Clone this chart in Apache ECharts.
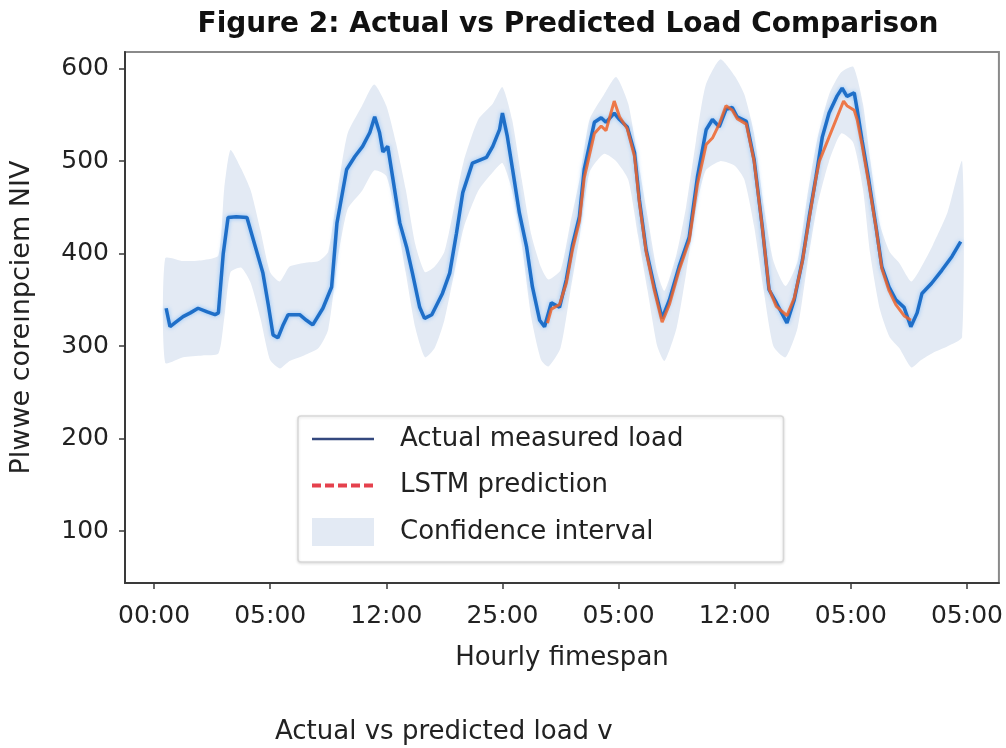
<!DOCTYPE html>
<html>
<head>
<meta charset="utf-8">
<script src="https://cdn.jsdelivr.net/npm/echarts@6/dist/echarts.min.js"></script>
<style>
html,body{margin:0;padding:0;background:#fff;}
#chart{width:1006px;height:748px;}
</style>
</head>
<body>
<div id="chart"></div>
<script>
var tickHours = [0, 24, 48, 72, 96, 120, 144, 168];
var tickLabels = ['00:00', '05:00', '12:00', '25:00', '05:00', '12:00', '05:00', '05:00'];
var yTicks = [100, 200, 300, 400, 500, 600];

var actualHours = [2.5,3.3,4.5,6,7.5,9.1,11,12.6,13.3,14.3,15.3,17,19.2,20.8,22.5,23.6,24.6,25.6,26.6,27.7,30.1,31.5,32.8,34.9,36.7,37.8,39.8,41.5,43.1,44.6,45.6,46.6,47.3,48.3,49.3,50.8,52.2,53.4,54.9,55.9,57.4,59.6,61.1,62.5,63.8,65.8,68.7,70,71.4,72,73,74.1,75.5,77,78.2,79.7,80.7,82.1,83.8,85.2,86.5,87.9,88.9,91,92.4,93.4,95.1,96.2,97.8,99.3,100.3,101.7,103.4,105,106.5,108.5,110.6,112.3,114.1,115.4,116.8,118.2,119.5,120.5,122.4,124,125.7,127.1,128.6,130.8,132.3,134,135.4,136.8,138.1,139.5,141.1,142.2,143.2,144.7,145.3,146.3,147.7,149.2,150.4,151.9,153.3,155,156.4,157.7,158.7,160.7,162.8,164.9,166.7];
var actualLoad = [341,321,326,332,336,341,337,334,336,400,439,440,439,410,379,345,312,309,322,334,334,328,323,341,364,433,491,505,516,531,548,531,510,516,483,433,407,379,342,330,334,357,379,422,466,498,504,516,534,552,527,491,444,407,364,328,321,347,342,372,410,440,491,542,547,542,552,545,537,509,458,404,364,330,350,386,418,483,534,545,537,556,558,548,543,502,429,361,347,325,350,393,440,483,526,552,570,579,570,574,556,523,480,429,386,364,350,342,321,336,357,368,382,397,413];

var predHours = [81.3,82.1,83.8,85.2,86.5,87.9,88.9,91,92.4,93.4,95.1,96.2,97.8,99.3,100.3,101.7,103.4,105,106.5,108.5,110.6,112.3,114.1,115.4,116.8,118.2,119.5,120.5,122.4,124,125.7,127.1,128.6,130.8,132.3,134,135.4,136.8,137.5,142.5,143.2,144.7,145.3,146.3,147.7,149.2,150.4,151.9,153.3,155,156.4];
var predLoad = [325,340,345,368,405,435,482,530,538,533,565,548,535,505,455,402,360,326,345,382,414,475,518,525,540,560,555,546,540,500,428,362,343,333,352,392,438,482,500,565,560,555,545,518,476,428,384,360,345,333,328];

var bandHours = [2.3,6,10,13.3,14.5,15.8,18,20,22,24,26,28,31,34,36,38,40,43,45.5,48,50,52,54,56,58,60,62,64,67,70,72,74,76,78,80,81.5,84,86,88,90,93,95.5,98,100,102,104,105.5,108,110,112,114,117,120,122,124,126,128,130.5,133,135,137,139.5,142,144.5,146.5,148,150,152,154,156.5,158.5,161,164,167];
var bandLow = [282,288,290,292,330,380,385,368,330,285,276,284,290,298,318,395,448,468,490,484,440,380,320,288,298,328,378,428,468,488,498,468,410,330,285,278,298,358,420,488,508,500,480,420,360,300,284,320,380,448,490,500,495,480,430,360,300,288,320,388,450,500,530,520,470,400,340,310,298,277,285,293,300,310];
var bandHigh = [395,392,393,398,470,512,492,468,425,380,370,386,390,392,402,470,530,560,583,560,520,470,410,380,386,402,450,500,545,562,580,545,480,420,385,372,382,432,482,545,572,591,562,502,440,380,360,400,452,522,582,610,592,572,530,452,392,365,392,462,522,572,596,602,562,502,432,402,390,370,385,410,445,500];

function pairs(xs, ys) { return xs.map(function (x, i) { return [x, ys[i]]; }); }

var FONT = 'DejaVu Sans';
var BAND = '#e3eaf4';
var chart = echarts.init(document.getElementById('chart'), null, {renderer: 'canvas'});

chart.setOption({
  animation: false,
  backgroundColor: '#ffffff',
  textStyle: {fontFamily: FONT},
  title: [{
    text: 'Figure 2: Actual vs Predicted Load Comparison',
    left: 563, top: 6, textAlign: 'center',
    textStyle: {fontFamily: FONT, fontSize: 28, fontWeight: 'bold', color: '#111'}
  }],
  graphic: [{
    type: 'text', left: 275, top: 719,
    style: {text: 'Actual vs predicted load v', font: '26px "DejaVu Sans"', fill: '#222'}
  }],
  grid: {
    left: 125, right: 6, top: 52, bottom: 165,
    show: true, borderColor: '#8a8a8a', borderWidth: 2, backgroundColor: 'transparent'
  },
  legend: {
    orient: 'vertical', left: 298, top: 416,
    padding: [9, 100, 16, 12],
    itemWidth: 62, itemHeight: 28, itemGap: 18.5,
    backgroundColor: '#ffffff', borderColor: '#d8d8d8', borderWidth: 1.5, borderRadius: 3,
    shadowColor: 'rgba(0,0,0,0.12)', shadowBlur: 3, shadowOffsetY: 1,
    textStyle: {fontFamily: FONT, fontSize: 26, color: '#222', padding: [0, 0, 0, 21], lineHeight: 28},
    data: [
      {name: 'Actual measured load', itemStyle: {opacity: 0}, lineStyle: {color: '#34487e', width: 2.5}},
      {name: 'LSTM prediction', itemStyle: {opacity: 0}, lineStyle: {color: '#e0202e', width: 4, type: [9, 4]}},
      {name: 'Confidence interval', icon: 'rect', itemStyle: {color: BAND}}
    ]
  },
  xAxis: {
    type: 'value', min: -6, max: 174.6,
    name: 'Hourly fimespan', nameLocation: 'middle', nameGap: 62,
    nameTextStyle: {fontFamily: FONT, fontSize: 26, color: '#222'},
    axisLine: {show: true, onZero: false, lineStyle: {color: '#3a3a3a', width: 2}},
    axisTick: {show: true, length: 6, customValues: tickHours, lineStyle: {color: '#3a3a3a', width: 1.5}},
    axisLabel: {
      customValues: tickHours, margin: 21,
      fontFamily: FONT, fontSize: 25, color: '#222',
      formatter: function (v) { var i = tickHours.indexOf(v); return i >= 0 ? tickLabels[i] : ''; }
    },
    splitLine: {show: false}
  },
  yAxis: {
    type: 'value', min: 44, max: 618,
    name: 'Plwwe coreınpciem NIV', nameLocation: 'middle', nameGap: 90,
    nameTextStyle: {fontFamily: FONT, fontSize: 27, color: '#222'},
    axisLine: {show: true, onZero: false, lineStyle: {color: '#3a3a3a', width: 2}},
    axisTick: {show: true, length: 6, customValues: yTicks, lineStyle: {color: '#3a3a3a', width: 1.5}},
    axisLabel: {customValues: yTicks, margin: 16, fontFamily: FONT, fontSize: 25, color: '#222'},
    splitLine: {show: false}
  },
  series: [
    {
      name: 'Confidence interval', type: 'custom', z: 1,
      itemStyle: {color: BAND},
      data: bandHours.map(function (h, i) { return [h, bandLow[i], bandHigh[i]]; }),
      encode: {x: 0, y: [1, 2]},
      renderItem: function (params, api) {
        if (params.dataIndex !== 0) return null;
        var pts = [];
        for (var i = 0; i < bandHours.length; i++) pts.push(api.coord([bandHours[i], bandHigh[i]]));
        for (var j = bandHours.length - 1; j >= 0; j--) pts.push(api.coord([bandHours[j], bandLow[j]]));
        return {type: 'polygon', shape: {points: pts, smooth: 0.2}, style: {fill: BAND}};
      }
    },
    {
      name: 'Actual measured load', type: 'line', z: 3,
      data: pairs(actualHours, actualLoad),
      showSymbol: false, symbol: 'none',
      itemStyle: {color: '#1f6fc8'},
      lineStyle: {color: '#1f6fc8', width: 3.5, shadowColor: 'rgba(70,160,255,0.55)', shadowBlur: 4}
    },
    {
      name: 'LSTM prediction', type: 'line', z: 4,
      data: pairs(predHours, predLoad),
      showSymbol: false, symbol: 'none',
      itemStyle: {color: '#ef642a'},
      lineStyle: {color: '#ef642a', width: 3, opacity: 0.85}
    }
  ]
});
</script>
</body>
</html>
